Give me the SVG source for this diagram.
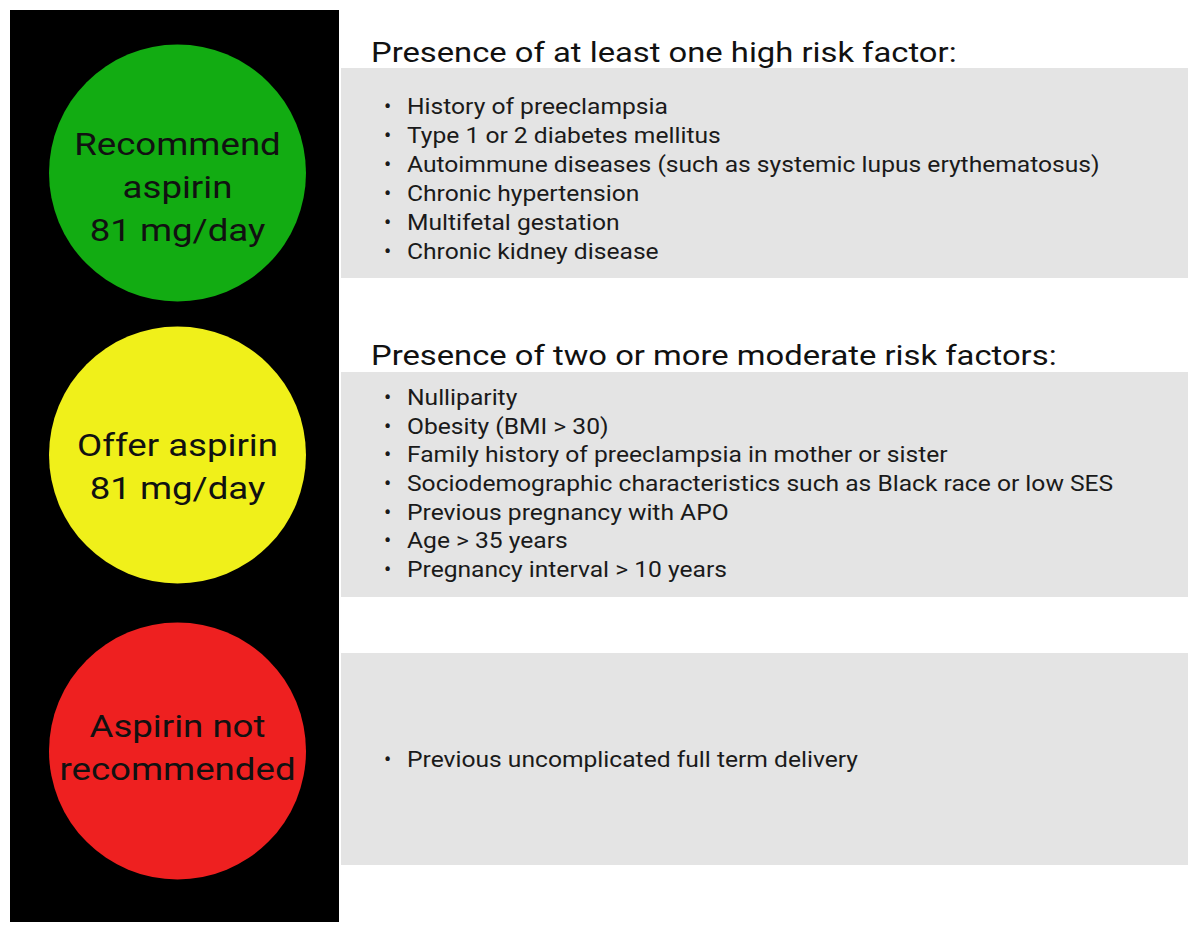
<svg xmlns="http://www.w3.org/2000/svg" width="1200" height="935" viewBox="0 0 1200 935">
<style>
.lamp{font-family:Roboto,"Liberation Sans",sans-serif;font-size:32px;fill:#111;text-anchor:middle}
.head{font-family:Roboto,"Liberation Sans",sans-serif;font-size:28px;fill:#111}
.item{font-family:Roboto,"Liberation Sans",sans-serif;font-size:21.5px;fill:#1a1a1a}
.box{fill:#e4e4e4}
</style>
<rect x="0" y="0" width="1200" height="935" fill="#ffffff"/>
<g id="signal">
<rect x="10" y="10" width="329" height="912" fill="#000000"/>
</g>
<g id="green">
<circle cx="177.5" cy="173" r="128.5" fill="#12ac12"/>
<g class="lamp" transform="translate(177.5,0) scale(1.145,1)">
<text x="0" y="155">Recommend</text>
<text x="0" y="198">aspirin</text>
<text x="0" y="241">81 mg/day</text>
</g>
</g>
<g id="yellow">
<circle cx="177.5" cy="455" r="128.5" fill="#f0f01a"/>
<g class="lamp" transform="translate(177.5,0) scale(1.145,1)">
<text x="0" y="456">Offer aspirin</text>
<text x="0" y="499">81 mg/day</text>
</g>
</g>
<g id="red">
<circle cx="177.5" cy="751" r="128.5" fill="#ee2020"/>
<g class="lamp" transform="translate(177.5,0) scale(1.145,1)">
<text x="0" y="737">Aspirin not</text>
<text x="0" y="780">recommended</text>
</g>
</g>
<g id="high-risk">
<text class="head" transform="translate(371,0) scale(1.17,1)" x="0" y="62">Presence of at least one high risk factor:</text>
<rect class="box" x="341" y="68" width="847" height="210"/>
<g class="item">
<text x="384" y="114">•</text>
<text x="384" y="143">•</text>
<text x="384" y="172">•</text>
<text x="384" y="201">•</text>
<text x="384" y="230">•</text>
<text x="384" y="259">•</text>
</g>
<g class="item" transform="translate(407,0) scale(1.145,1)">
<text x="0" y="114">History of preeclampsia</text>
<text x="0" y="143">Type 1 or 2 diabetes mellitus</text>
<text x="0" y="172">Autoimmune diseases (such as systemic lupus erythematosus)</text>
<text x="0" y="201">Chronic hypertension</text>
<text x="0" y="230">Multifetal gestation</text>
<text x="0" y="259">Chronic kidney disease</text>
</g>
</g>
<g id="moderate-risk">
<text class="head" transform="translate(371,0) scale(1.17,1)" x="0" y="365">Presence of two or more moderate risk factors:</text>
<rect class="box" x="341" y="372" width="847" height="225"/>
<g class="item">
<text x="384" y="405">•</text>
<text x="384" y="434">•</text>
<text x="384" y="462">•</text>
<text x="384" y="491">•</text>
<text x="384" y="520">•</text>
<text x="384" y="548">•</text>
<text x="384" y="577">•</text>
</g>
<g class="item" transform="translate(407,0) scale(1.145,1)">
<text x="0" y="405">Nulliparity</text>
<text x="0" y="434">Obesity (BMI &gt; 30)</text>
<text x="0" y="462">Family history of preeclampsia in mother or sister</text>
<text x="0" y="491">Sociodemographic characteristics such as Black race or low SES</text>
<text x="0" y="520">Previous pregnancy with APO</text>
<text x="0" y="548">Age &gt; 35 years</text>
<text x="0" y="577">Pregnancy interval &gt; 10 years</text>
</g>
</g>
<g id="no-risk">
<rect class="box" x="341" y="653" width="847" height="212"/>
<text class="item" x="384" y="767">•</text>
<text class="item" transform="translate(407,0) scale(1.145,1)" x="0" y="767">Previous uncomplicated full term delivery</text>
</g>
<g id="connectors"></g>
</svg>
